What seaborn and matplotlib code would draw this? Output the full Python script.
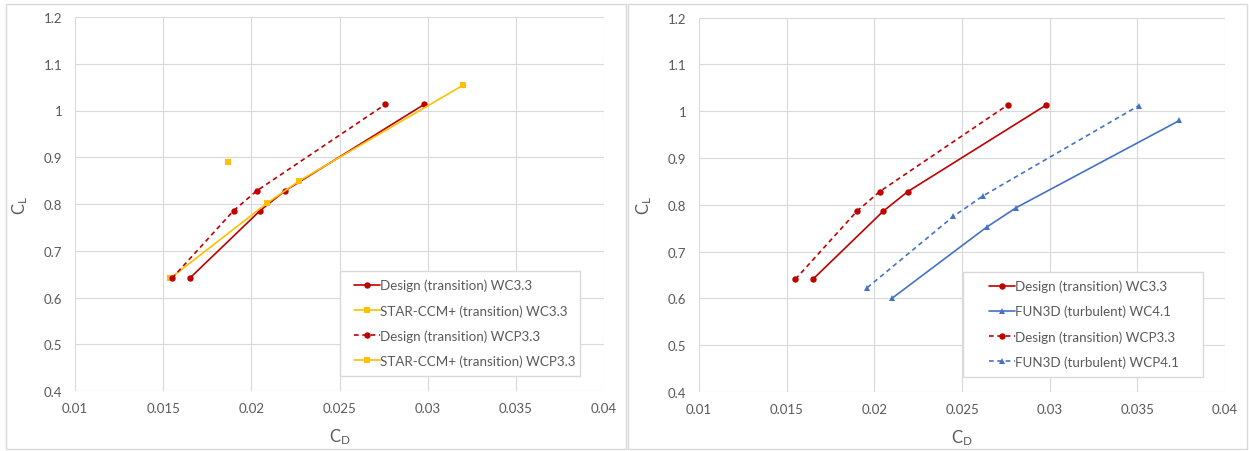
import matplotlib
matplotlib.use("Agg")
import matplotlib.pyplot as plt
from matplotlib.patches import Rectangle
from matplotlib.ticker import FuncFormatter
import seaborn as sns

# Drag polar data (lift coefficient vs drag coefficient)
cd_design_wc = [0.0165, 0.0205, 0.0219, 0.0298]
cl_design_wc = [0.641, 0.786, 0.828, 1.013]
cd_design_wcp = [0.0155, 0.0190, 0.0203, 0.0276]
cl_design_wcp = [0.641, 0.786, 0.828, 1.013]
cd_star_wc = [0.0154, 0.0209, 0.0227, 0.0320]
cl_star_wc = [0.641, 0.802, 0.849, 1.054]
cd_star_wcp = [0.0187]
cl_star_wcp = [0.890]
cd_fun3d_wc = [0.0210, 0.0264, 0.0281, 0.0374]
cl_fun3d_wc = [0.600, 0.752, 0.794, 0.980]
cd_fun3d_wcp = [0.0196, 0.0245, 0.0262, 0.0351]
cl_fun3d_wcp = [0.623, 0.775, 0.819, 1.012]

x_ticks = [0.01, 0.015, 0.02, 0.025, 0.03, 0.035, 0.04]
y_ticks = [0.4, 0.5, 0.6, 0.7, 0.8, 0.9, 1.0, 1.1, 1.2]

RED = "#C00000"
YELLOW = "#FFC000"
BLUE = "#4472C4"
GRID = "#D9D9D9"
TEXT = "#595959"

sns.set_theme(style="white")
plt.rcParams["font.family"] = ["Lato", "DejaVu Sans"]
plt.rcParams["mathtext.default"] = "regular"

W, H = 1249, 452
fig = plt.figure(figsize=(W / 100, H / 100), dpi=100)
fig.patch.set_facecolor("white")


def px_box(x0, y0, x1, y1):
    """Figure-fraction box from pixel corners (top-left origin)."""
    return [x0 / W, 1 - y1 / H, (x1 - x0) / W, (y1 - y0) / H]


# Chart-area frames
for (x0, y0, x1, y1) in [(6, 5, 626, 450), (628, 5, 1247, 450)]:
    fig.patches.append(Rectangle((x0 / W, 1 - y1 / H), (x1 - x0) / W, (y1 - y0) / H,
                                 transform=fig.transFigure, fill=False,
                                 edgecolor=GRID, linewidth=1.0))

ax_l = fig.add_axes(px_box(75, 18, 604, 392))
ax_r = fig.add_axes(px_box(699, 18.5, 1225, 393))

DASH = (0, (2.8, 2.2))


def series(ax, x, y, label, color, marker, ms, ls="-"):
    sns.lineplot(x=x, y=y, ax=ax, label=label, color=color, marker=marker,
                 markersize=ms, markeredgecolor=color, markeredgewidth=0,
                 linewidth=1.2, linestyle=ls, estimator=None, sort=False)


series(ax_l, cd_design_wc, cl_design_wc, "Design (transition) WC3.3", RED, "o", 4.6)
series(ax_l, cd_star_wc, cl_star_wc, "STAR-CCM+ (transition) WC3.3", YELLOW, "s", 4.0)
series(ax_l, cd_design_wcp, cl_design_wcp, "Design (transition) WCP3.3", RED, "o", 4.6, DASH)
series(ax_l, cd_star_wcp, cl_star_wcp, "STAR-CCM+ (transition) WCP3.3", YELLOW, "s", 4.0)

series(ax_r, cd_design_wc, cl_design_wc, "Design (transition) WC3.3", RED, "o", 4.6)
series(ax_r, cd_fun3d_wc, cl_fun3d_wc, "FUN3D (turbulent) WC4.1", BLUE, "^", 4.4)
series(ax_r, cd_design_wcp, cl_design_wcp, "Design (transition) WCP3.3", RED, "o", 4.6, DASH)
series(ax_r, cd_fun3d_wcp, cl_fun3d_wcp, "FUN3D (turbulent) WCP4.1", BLUE, "^", 4.4, DASH)

fmt = FuncFormatter(lambda v, _: f"{v:g}")
for ax, leg_x in ((ax_l, 0.527), (ax_r, 0.551)):
    ax.set_xlim(0.01, 0.04)
    ax.set_ylim(0.4, 1.2)
    ax.set_xticks(x_ticks)
    ax.set_yticks(y_ticks)
    ax.xaxis.set_major_formatter(fmt)
    ax.yaxis.set_major_formatter(fmt)
    ax.grid(True, color=GRID, linewidth=0.8)
    for s in ax.spines.values():
        s.set_visible(False)
    ax.tick_params(axis="both", length=0, labelsize=9.5, colors=TEXT)
    ax.tick_params(axis="y", pad=9)
    ax.tick_params(axis="x", pad=8)
    ax.set_xlabel("C$_D$", fontsize=12, color=TEXT)
    ax.set_ylabel("C$_L$", fontsize=12, color=TEXT, rotation=90)
    ax.xaxis.set_label_coords(0.5, -0.095)
    ax.yaxis.set_label_coords(-0.085, 0.5)

    # Legend entries placed inside a separately drawn frame
    ax.legend(loc="upper left", bbox_to_anchor=(leg_x, 0.30), frameon=False,
              fontsize=9.6, handlelength=1.95, handletextpad=0.05,
              labelspacing=0.95, borderpad=0.0, borderaxespad=0,
              labelcolor=TEXT)

# legend frames
ax_l.add_patch(Rectangle((0.501, 0.0401), 0.4537, 0.2807, transform=ax_l.transAxes,
                         fill=True, facecolor="white", edgecolor=GRID, linewidth=1.0,
                         zorder=1))
ax_r.add_patch(Rectangle((0.5015, 0.0401), 0.456, 0.2805, transform=ax_r.transAxes,
                         fill=True, facecolor="white", edgecolor=GRID, linewidth=1.0,
                         zorder=1))

fig.savefig("out.png", dpi=100, facecolor="white")
